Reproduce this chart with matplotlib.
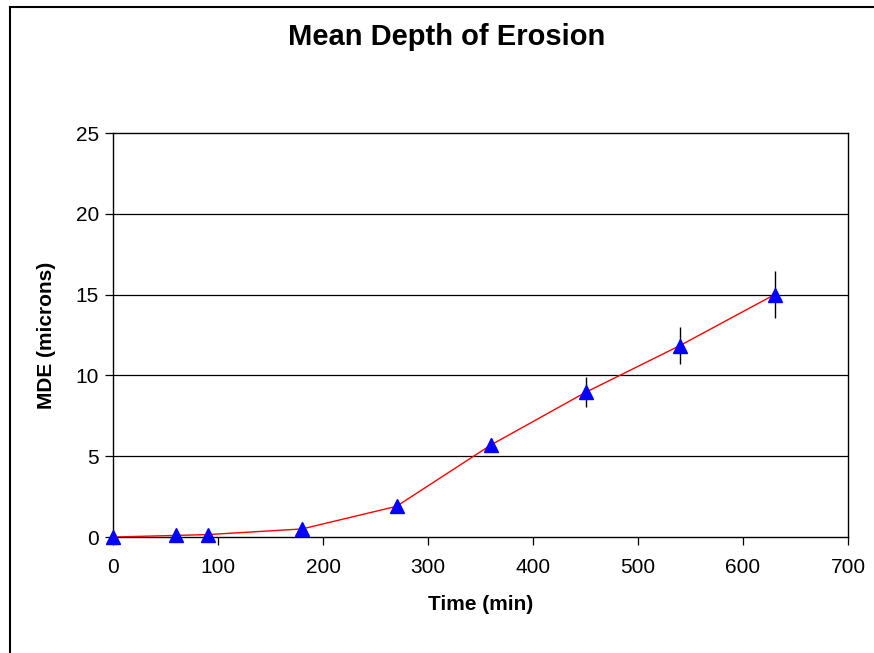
import matplotlib
matplotlib.use("Agg")
import matplotlib.pyplot as plt
from matplotlib.lines import Line2D

# data
time_min = [0, 60, 90, 180, 270, 360, 450, 540, 630]
mde = [0.0, 0.1, 0.15, 0.5, 1.9, 5.7, 8.95, 11.85, 15.0]
mde_err = [0.0, 0.0, 0.0, 0.05, 0.15, 0.45, 0.93, 1.15, 1.45]
xticks = [0, 100, 200, 300, 400, 500, 600, 700]
yticks = [0, 5, 10, 15, 20, 25]

plt.rcParams['font.family'] = ['Liberation Sans', 'DejaVu Sans']

fig = plt.figure(figsize=(8.74, 6.53), dpi=100)
ax = fig.add_axes([0.1293, 0.1776, 0.8410, 0.6187])

# horizontal gridlines
for y in yticks[1:-1]:
    ax.axhline(y, color='black', lw=0.9, zorder=1)

ax.errorbar(time_min, mde, yerr=mde_err, fmt='none', ecolor='black', elinewidth=1, capsize=0, zorder=2)
ax.plot(time_min, mde, color='red', lw=1, zorder=3)
ax.plot(time_min, mde, ls='none', marker='^', color='blue', markersize=10, zorder=4, clip_on=False)

ax.set_xlim(0, 700)
ax.set_ylim(0, 25)
ax.set_xticks(xticks)
ax.set_yticks(yticks)
ax.tick_params(direction='out', length=6, width=0.9, labelsize=15, pad=9)
ax.tick_params(axis='y', pad=4)
for s in ax.spines.values():
    s.set_linewidth(1)

ax.set_xlabel('Time (min)', fontsize=15, fontweight='bold', labelpad=13)
ax.set_ylabel('MDE (microns)', fontsize=15, fontweight='bold', labelpad=14)
fig.text(0.511, 0.944, 'Mean Depth of Erosion', ha='center', va='center', fontsize=21, fontweight='bold')

# chart-area border (top and left visible)
fig.add_artist(Line2D([10/874, 1.0], [1 - 7/653, 1 - 7/653], color='black', lw=1.5, transform=fig.transFigure))
fig.add_artist(Line2D([10/874, 10/874], [0, 1 - 7/653], color='black', lw=1.5, transform=fig.transFigure))

fig.savefig('out.png', dpi=100)
